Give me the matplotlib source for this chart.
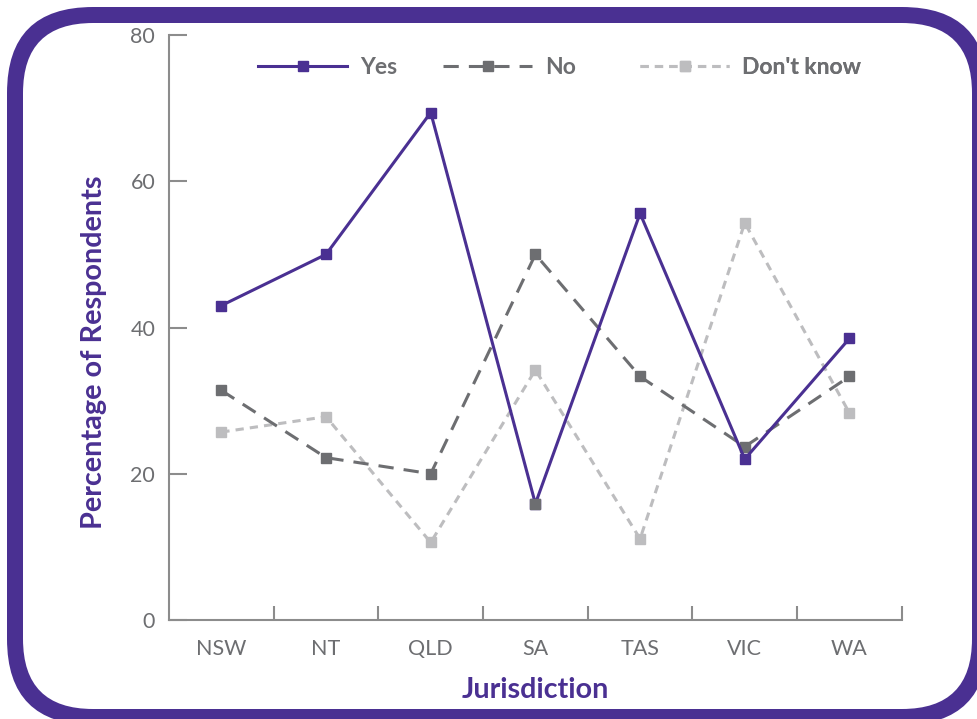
import matplotlib
matplotlib.use("Agg")
import matplotlib.pyplot as plt
from matplotlib.patches import FancyBboxPatch
from matplotlib.lines import Line2D

# Survey responses by jurisdiction (% of respondents)
jurisdictions = ["NSW", "NT", "QLD", "SA", "TAS", "VIC", "WA"]
yes_vals = [43.0, 50.0, 69.4, 15.9, 55.6, 22.0, 38.5]
no_vals = [31.4, 22.2, 20.0, 50.0, 33.3, 23.7, 33.3]
dont_know_vals = [25.7, 27.8, 10.6, 34.2, 11.1, 54.3, 28.3]
series_names = ["Yes", "No", "Don't know"]
y_ticks = [0, 20, 40, 60, 80]

PURPLE = "#4A3092"
DARK = "#6D6E71"
LIGHT = "#BDBDBF"
AXIS = "#8C8C8C"

plt.rcParams["font.family"] = ["Lato", "DejaVu Sans"]

W, H = 977, 719
fig = plt.figure(figsize=(W / 100, H / 100), dpi=100)

# rounded purple frame around the whole chart, drawn in pixel units as a
# filled outer shape with a white inner shape on top
frame_ax = fig.add_axes([0, 0, 1, 1], zorder=-1)
frame_ax.set_xlim(0, W)
frame_ax.set_ylim(0, H)
frame_ax.axis("off")
frame_ax.add_patch(FancyBboxPatch((7, -6), 981, 718,
                                  boxstyle="round,pad=0,rounding_size=86",
                                  fc=PURPLE, ec="none", clip_on=False))
frame_ax.add_patch(FancyBboxPatch((23, 10), 949, 686,
                                  boxstyle="round,pad=0,rounding_size=70",
                                  fc="white", ec="none", clip_on=False))

ax = fig.add_axes([0.173, 0.1377, 0.750, 0.8136])
ax.patch.set_alpha(0)

x = list(range(len(jurisdictions)))
LW = 2.2
MS = 7.5

styles = {
    "Yes": dict(color=PURPLE, lw=LW, marker="s", ms=MS, mfc=PURPLE, mec=PURPLE),
    "No": dict(color=DARK, lw=LW, dashes=(5, 3.3), marker="s", ms=MS, mfc=DARK, mec=DARK),
    "Don't know": dict(color=LIGHT, lw=LW, dashes=(2.7, 2.0), marker="s", ms=MS, mfc=LIGHT, mec=LIGHT),
}

ax.plot(x, dont_know_vals, zorder=3, **styles["Don't know"])
ax.plot(x, no_vals, zorder=4, **styles["No"])
ax.plot(x, yes_vals, zorder=5, **styles["Yes"])
# the SA "Yes" point carries a grey marker
sa = jurisdictions.index("SA")
ax.plot([x[sa]], [yes_vals[sa]], ls="none", marker="s", ms=MS,
        mfc=DARK, mec=DARK, zorder=6)

ax.set_xlim(-0.5, len(jurisdictions) - 0.5)
ax.set_ylim(0, 80)
ax.set_yticks(y_ticks)
ax.set_xticks(x)
ax.set_xticklabels(jurisdictions)
ax.set_xticks([i + 0.5 for i in x], minor=True)

for s in ["top", "right"]:
    ax.spines[s].set_visible(False)
for s in ["left", "bottom"]:
    ax.spines[s].set_color(AXIS)
    ax.spines[s].set_linewidth(1.5)

ax.tick_params(axis="y", direction="in", length=13, width=1.5, color=AXIS,
               labelsize=15.5, labelcolor=DARK, pad=10)
ax.tick_params(axis="x", which="major", length=0, labelsize=15.5,
               labelcolor=DARK, pad=14)
ax.tick_params(axis="x", which="minor", direction="in", length=10,
               width=1.5, color=AXIS)

ax.set_ylabel("Percentage of Respondents", fontsize=20.7, fontweight="bold",
              color=PURPLE)
ax.yaxis.set_label_coords(-0.0846, 0.458)
ax.set_xlabel("Jurisdiction", fontsize=20.7, fontweight="bold",
              color=PURPLE, labelpad=13)

# legend entries placed individually along the top of the plot
legend_x = [0.1214, 0.3738, 0.6426]
for name, lx in zip(series_names, legend_x):
    h = Line2D([], [], **styles[name])
    leg = ax.legend([h], [name], loc="center left", bbox_to_anchor=(lx, 0.944),
                    frameon=False, handlelength=3.9, handletextpad=0.55,
                    borderpad=0, borderaxespad=0, fontsize=16.5)
    for t in leg.get_texts():
        t.set_color(DARK)
        t.set_fontweight("bold")
    ax.add_artist(leg)

fig.savefig("out.png", dpi=100)
